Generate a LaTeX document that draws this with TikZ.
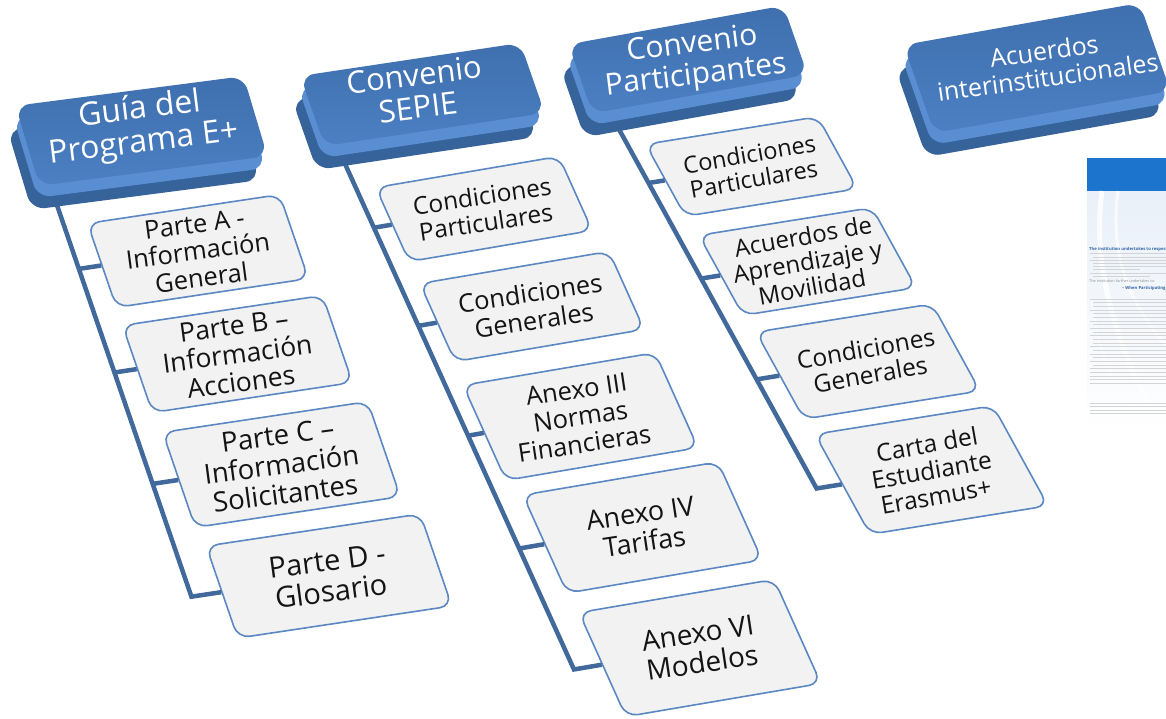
\documentclass[tikz,border=0pt]{standalone}
\usepackage{fontspec}
\setsansfont{Open Sans}
\usetikzlibrary{calc}
\definecolor{kidfill}{HTML}{F2F2F2}
\definecolor{kidline}{HTML}{5B87C2}
\definecolor{kidtxt}{HTML}{141414}
\definecolor{linkblue}{HTML}{41699C}
\definecolor{facetop}{HTML}{3F6FAE}
\definecolor{facebot}{HTML}{4B80C3}
\definecolor{bevelblue}{HTML}{5A8ED2}
\definecolor{depthblue}{HTML}{35639A}
\definecolor{docblue}{HTML}{1C74CC}
\definecolor{docbg}{HTML}{E6EEF8}
\definecolor{doctitle}{HTML}{2F62A8}

\begin{document}
\begin{tikzpicture}[x=1pt, y=1pt,
    kid/.style={draw=kidline, fill=kidfill, line width=1.6pt, rounded corners=12pt, inner sep=0pt},
    hdrface/.style={top color=facetop, bottom color=facebot, rounded corners=14pt, inner sep=0pt},
    hdrbevel/.style={fill=bevelblue, rounded corners=14pt, inner sep=0pt},
    hdrdepth/.style={fill=depthblue, rounded corners=14pt, inner sep=0pt},
    cola/.style={cm={1,0.15,-0.343,1,(0,0)}},
    colb/.style={cm={1,0.17,-0.45,1,(0,0)}},
    colc/.style={cm={1,0.16,-0.55,1,(0,0)}},
    hdra/.style={cm={1,0.13,-0.30,1,(0,0)}},
    hdrb/.style={cm={1,0.15,-0.35,1,(0,0)}},
    hdrc/.style={cm={1,0.18,-0.35,1,(0,0)}},
    hdrd/.style={cm={1,0.178,-0.35,1,(0,0)}},
    wire/.style={draw=linkblue, line width=4.5pt, line join=miter},
    kidtext/.style 2 args={rotate=#1, align=center, text=kidtxt, inner sep=0pt,
      font=\sffamily\pgfmathsetmacro\bls{1.07*#2}\fontsize{#2}{\bls}\selectfont},
    hdrtext/.style 2 args={rotate=#1, align=center, text=white, inner sep=0pt,
      font=\sffamily\pgfmathsetmacro\bls{1.05*#2}\fontsize{#2}{\bls}\selectfont},
    docline/.style={draw=black!17, line width=0.8pt}]
  \clip (0,0) rectangle (1166,-718);

  \node[kid, cola, minimum width=192, minimum height=84] (pA) at (198,-251) {};
  \node[kid, cola, minimum width=200, minimum height=87] (pB) at (237.5,-354) {};
  \node[kid, cola, minimum width=205, minimum height=95] (pC) at (281.5,-464.5) {};
  \node[kid, cola, minimum width=214, minimum height=92] (pD) at (329,-576) {};
  \node[kidtext={7.5}{25.5}] (pAt) at (pA.center) {Parte A -\\Información\\General};
  \node[kidtext={7.5}{26.5}] (pBt) at (pB.center) {Parte B –\\Información\\Acciones};
  \node[kidtext={7.5}{27.5}] (pCt) at (pC.center) {Parte C –\\Información\\Solicitantes};
  \node[kidtext={7.5}{29}] (pDt) at (pD.center) {Parte D -\\Glosario};

  \node[kid, colb, minimum width=183, minimum height=74] (sA) at (484,-209) {};
  \node[kid, colb, minimum width=189, minimum height=78] (sB) at (532,-306.5) {};
  \node[kid, colb, minimum width=192, minimum height=95] (sC) at (580.5,-416.5) {};
  \node[kid, colb, minimum width=195, minimum height=98] (sD) at (642.5,-527.5) {};
  \node[kid, colb, minimum width=195, minimum height=104] (sE) at (700,-648) {};
  \node[kidtext={8.5}{24.5}] (sAt) at (sA.center) {Condiciones\\Particulares};
  \node[kidtext={8.5}{25.5}] (sBt) at (sB.center) {Condiciones\\Generales};
  \node[kidtext={8.5}{25.5}] (sCt) at (sC.center) {Anexo III\\Normas\\Financieras};
  \node[kidtext={8.5}{27}] (sDt) at (sD.center) {Anexo IV\\Tarifas};
  \node[kidtext={8.5}{28}] (sEt) at (sE.center) {Anexo VI\\Modelos};

  \node[kid, colc, minimum width=172, minimum height=72] (qA) at (751.5,-166.5) {};
  \node[kid, colc, minimum width=173, minimum height=80] (qB) at (807.5,-261.5) {};
  \node[kid, colc, minimum width=176, minimum height=87] (qC) at (868,-361.5) {};
  \node[kid, colc, minimum width=178, minimum height=100] (qD) at (931.5,-470) {};
  \node[kidtext={10}{23.5}] (qAt) at (qA.center) {Condiciones\\Particulares};
  \node[kidtext={10}{24}] (qBt) at (qB.center) {Acuerdos de\\Aprendizaje y\\Movilidad};
  \node[kidtext={10}{24.5}] (qCt) at (qC.center) {Condiciones\\Generales};
  \node[kidtext={10}{24.5}] (qDt) at (qD.center) {Carta del\\Estudiante\\Erasmus+};

  \coordinate (Gtop) at (53.5,-195);
  \coordinate (Gbot) at (185,-578);
  \draw[wire] (Gtop) -- (intersection of Gtop--Gbot and pD.west--pD.east) -- (pD.west);
  \draw[wire] (intersection of Gtop--Gbot and pA.west--pA.east) -- (pA.west);
  \draw[wire] (intersection of Gtop--Gbot and pB.west--pB.east) -- (pB.west);
  \draw[wire] (intersection of Gtop--Gbot and pC.west--pC.east) -- (pC.west);

  \coordinate (Stop) at (341,-155);
  \coordinate (Sbot) at (557,-632);
  \draw[wire] (Stop) -- (intersection of Stop--Sbot and sE.west--sE.east) -- (sE.west);
  \draw[wire] (intersection of Stop--Sbot and sA.west--sA.east) -- (sA.west);
  \draw[wire] (intersection of Stop--Sbot and sB.west--sB.east) -- (sB.west);
  \draw[wire] (intersection of Stop--Sbot and sC.west--sC.east) -- (sC.west);
  \draw[wire] (intersection of Stop--Sbot and sD.west--sD.east) -- (sD.west);

  \coordinate (Ptop) at (615,-122);
  \coordinate (Pbot) at (802,-462);
  \draw[wire] (Ptop) -- (intersection of Ptop--Pbot and qD.west--qD.east) -- (qD.west);
  \draw[wire] (intersection of Ptop--Pbot and qA.west--qA.east) -- (qA.west);
  \draw[wire] (intersection of Ptop--Pbot and qB.west--qB.east) -- (qB.west);
  \draw[wire] (intersection of Ptop--Pbot and qC.west--qC.east) -- (qC.west);

  \node[hdrdepth, hdra, minimum width=228, minimum height=80] (hGd) at (133.5,-155) {};
  \node[hdrbevel, hdra, minimum width=228, minimum height=80] (hGb) at (139.5,-143) {};
  \node[hdrface, hdra, minimum width=228, minimum height=80] (hG) at (141.5,-131) {};
  \node[hdrtext={7}{32}] (hGt) at (141.5,-127) {Guía del\\Programa E+};

  \node[hdrdepth, hdrb, minimum width=220, minimum height=70] (hSd) at (414.5,-118.5) {};
  \node[hdrbevel, hdrb, minimum width=220, minimum height=70] (hSb) at (420.5,-106.5) {};
  \node[hdrface, hdrb, minimum width=220, minimum height=70] (hS) at (422.5,-94.5) {};
  \node[hdrtext={7}{31}] (hSt) at (416,-91) {Convenio\\SEPIE};

  \node[hdrdepth, hdrc, minimum width=215, minimum height=69] (hPd) at (680,-83.5) {};
  \node[hdrbevel, hdrc, minimum width=215, minimum height=69] (hPb) at (686,-71.5) {};
  \node[hdrface, hdrc, minimum width=215, minimum height=69] (hP) at (688,-59.5) {};
  \node[hdrtext={7}{30}] (hPt) at (694,-61) {Convenio\\Participantes};

  \node[hdrdepth, hdrd, minimum width=236, minimum height=88] (hId) at (1029,-92) {};
  \node[hdrbevel, hdrd, minimum width=236, minimum height=88] (hIb) at (1035,-80) {};
  \node[hdrface, hdrd, minimum width=236, minimum height=88] (hI) at (1037,-68) {};
  \node[hdrtext={8}{25}] (hIt) at (1046,-64) {Acuerdos\\interinstitucionales};

  \shade[top color=docbg, bottom color=white] (1087,-158) rectangle (1170,-432);
  \fill[docblue] (1087,-158) rectangle (1170,-191);
  \draw[white, line width=5pt, opacity=0.8] (1102,-191) .. controls (1092,-260) and (1112,-340) .. (1160,-425);
  \draw[white, line width=3pt, opacity=0.7] (1118,-191) .. controls (1110,-250) and (1125,-300) .. (1170,-350);
  \draw[white, line width=2pt, opacity=0.6] (1092,-300) .. controls (1098,-360) and (1120,-400) .. (1150,-432);
  \node[anchor=west, inner sep=0pt, text=doctitle, font=\sffamily\bfseries\fontsize{4.2}{4.2}\selectfont] (docA) at (1089,-249) {The institution undertakes to respect};
  \node[anchor=west, inner sep=0pt, text=black!45, font=\sffamily\fontsize{3.8}{3.8}\selectfont] (docB) at (1089,-281) {The institution further undertakes to:};
  \node[anchor=west, inner sep=0pt, text=doctitle, font=\sffamily\bfseries\fontsize{4.2}{4.2}\selectfont] (docC) at (1122,-288) {-- When Participating};
  \draw[docline] (1090,-253.5) -- (1170,-253.5) (1093,-257) -- (1170,-257) (1090,-260) -- (1170,-260)
    (1093,-263) -- (1170,-263) (1093,-266) -- (1170,-266) (1093,-269.5) -- (1140,-269.5)
    (1090,-273) -- (1170,-273) (1093,-276.5) -- (1150,-276.5)
    (1090,-299) -- (1170,-299) (1093,-302.5) -- (1170,-302.5) (1093,-306) -- (1170,-306)
    (1090,-310) -- (1170,-310) (1093,-313.5) -- (1170,-313.5) (1093,-317) -- (1170,-317)
    (1090,-321) -- (1170,-321) (1093,-324.5) -- (1170,-324.5) (1090,-328) -- (1170,-328)
    (1093,-332) -- (1170,-332) (1090,-335.5) -- (1170,-335.5) (1093,-339) -- (1170,-339)
    (1093,-343) -- (1170,-343) (1090,-346.5) -- (1170,-346.5) (1093,-350) -- (1170,-350)
    (1090,-354) -- (1170,-354) (1093,-357.5) -- (1170,-357.5) (1090,-361) -- (1170,-361)
    (1093,-365) -- (1170,-365) (1090,-368.5) -- (1170,-368.5) (1090,-372) -- (1170,-372)
    (1090,-376) -- (1170,-376) (1090,-379.5) -- (1170,-379.5) (1090,-383) -- (1170,-383)
    (1090,-403) -- (1170,-403) (1090,-406.5) -- (1170,-406.5) (1090,-410) -- (1170,-410)
    (1090,-413.5) -- (1170,-413.5);
\end{tikzpicture}
\end{document}
